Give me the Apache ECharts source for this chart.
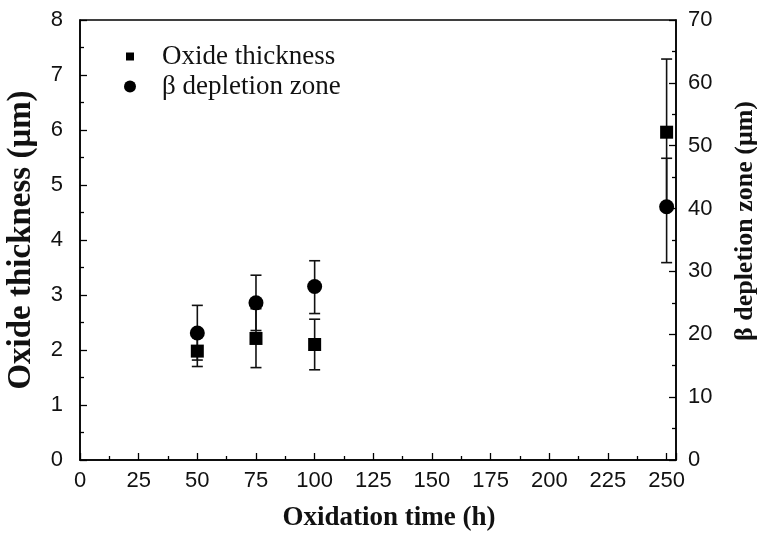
<!DOCTYPE html>
<html>
<head>
<meta charset="utf-8">
<script src="https://cdn.jsdelivr.net/npm/echarts@6/dist/echarts.min.js"></script>
<style>
  html, body { margin: 0; padding: 0; background: #fff; }
  #chart { width: 757px; height: 535px; }
</style>
</head>
<body>
<div id="chart"></div>
<script>
// oxidation time (h)
var times = [50, 75, 100, 250];

// oxide thickness (um) with error range
var oxide = [1.98, 2.21, 2.10, 5.96];
var oxideLow = [1.70, 1.68, 1.64, 4.63];
var oxideHigh = [2.26, 2.75, 2.56, 7.29];

// beta depletion zone (um) with error range
var beta = [20.2, 25.0, 27.6, 40.3];
var betaLow = [15.9, 20.6, 23.3, 31.4];
var betaHigh = [24.6, 29.4, 31.7, 48.0];

var serifFont = '"Liberation Serif", "DejaVu Serif", serif';
var sansFont = '"Liberation Sans", Arial, sans-serif';

function pairs(xs, ys) {
  return xs.map(function (x, i) { return [x, ys[i]]; });
}
function errRows(xs, lo, hi) {
  return xs.map(function (x, i) { return [x, lo[i], hi[i]]; });
}

// error bar: vertical line with caps
function renderErr(params, api) {
  var x = api.value(0);
  var lo = api.coord([x, api.value(1)]);
  var hi = api.coord([x, api.value(2)]);
  var w = 5.5;
  var st = { stroke: '#111', lineWidth: 1.6 };
  return {
    type: 'group',
    children: [
      { type: 'line', shape: { x1: lo[0], y1: lo[1], x2: hi[0], y2: hi[1] }, style: st },
      { type: 'line', shape: { x1: lo[0] - w, y1: lo[1], x2: lo[0] + w, y2: lo[1] }, style: st },
      { type: 'line', shape: { x1: hi[0] - w, y1: hi[1], x2: hi[0] + w, y2: hi[1] }, style: st }
    ]
  };
}

var axisLine = { show: true, lineStyle: { color: '#000', width: 1.5 } };
var axisTick = { show: true, inside: true, length: 7, lineStyle: { color: '#000', width: 1.3 } };
var minorTick = { show: true, splitNumber: 2, length: 4, lineStyle: { color: '#000', width: 1.3 } };
var tickLabel = { color: '#111', fontFamily: sansFont, fontSize: 22 };

var chart = echarts.init(document.getElementById('chart'));
chart.setOption({
  animation: false,
  backgroundColor: '#fff',
  grid: {
    left: 80, right: 81, top: 20, bottom: 75,
    outerBoundsMode: 'none',
    containLabel: false,
    show: true, borderColor: '#000', borderWidth: 1.5
  },
  legend: {
    orient: 'vertical',
    left: 119,
    top: 38,
    itemWidth: 54,
    itemHeight: 12,
    itemGap: 3,
    textStyle: { fontFamily: serifFont, fontSize: 27, color: '#111', padding: [0, 0, 0, 0] },
    data: [
      { name: 'Oxide thickness', icon: 'path://M0,0M12,12M2,2h8v8h-8z' },
      { name: 'β depletion zone', icon: 'circle' }
    ]
  },
  xAxis: {
    type: 'value',
    min: 0, max: 254, interval: 25,
    name: 'Oxidation time (h)',
    nameLocation: 'middle',
    nameGap: 45,
    nameTextStyle: { fontFamily: serifFont, fontWeight: 'bold', fontSize: 27, color: '#111', padding: [0, 0, 0, 22] },
    axisLine: axisLine,
    axisTick: axisTick,
    minorTick: minorTick,
    splitLine: { show: false },
    axisLabel: Object.assign({ margin: 10, showMaxLabel: false }, tickLabel)
  },
  yAxis: [
    {
      type: 'value',
      min: 0, max: 8, interval: 1,
      name: 'Oxide thickness (μm)',
      nameLocation: 'middle',
      nameGap: 42,
      nameTextStyle: { fontFamily: serifFont, fontWeight: 'bold', fontSize: 33, color: '#111' },
      axisLine: axisLine,
      axisTick: axisTick,
      minorTick: minorTick,
      splitLine: { show: false },
      axisLabel: Object.assign({ margin: 17 }, tickLabel)
    },
    {
      type: 'value',
      position: 'right',
      min: 0, max: 70, interval: 10,
      name: 'β depletion zone (μm)',
      nameLocation: 'middle',
      nameGap: 56,
      nameRotate: 90,
      nameTextStyle: { fontFamily: serifFont, fontWeight: 'bold', fontSize: 26, color: '#111', padding: [0, 0, 0, 38] },
      axisLine: axisLine,
      axisTick: axisTick,
      minorTick: minorTick,
      splitLine: { show: false },
      axisLabel: Object.assign({ margin: 12 }, tickLabel)
    }
  ],
  series: [
    {
      name: 'oxide err',
      type: 'custom',
      yAxisIndex: 0,
      renderItem: renderErr,
      encode: { x: 0, y: [1, 2] },
      data: errRows(times, oxideLow, oxideHigh),
      z: 1
    },
    {
      name: 'beta err',
      type: 'custom',
      yAxisIndex: 1,
      renderItem: renderErr,
      encode: { x: 0, y: [1, 2] },
      data: errRows(times, betaLow, betaHigh),
      z: 1
    },
    {
      name: 'Oxide thickness',
      type: 'scatter',
      yAxisIndex: 0,
      symbol: 'rect',
      symbolSize: 13,
      itemStyle: { color: '#000', opacity: 1 },
      data: pairs(times, oxide),
      z: 3
    },
    {
      name: 'β depletion zone',
      type: 'scatter',
      yAxisIndex: 1,
      symbol: 'circle',
      symbolSize: 15,
      itemStyle: { color: '#000', opacity: 1 },
      data: pairs(times, beta),
      z: 3
    }
  ]
});
</script>
</body>
</html>
